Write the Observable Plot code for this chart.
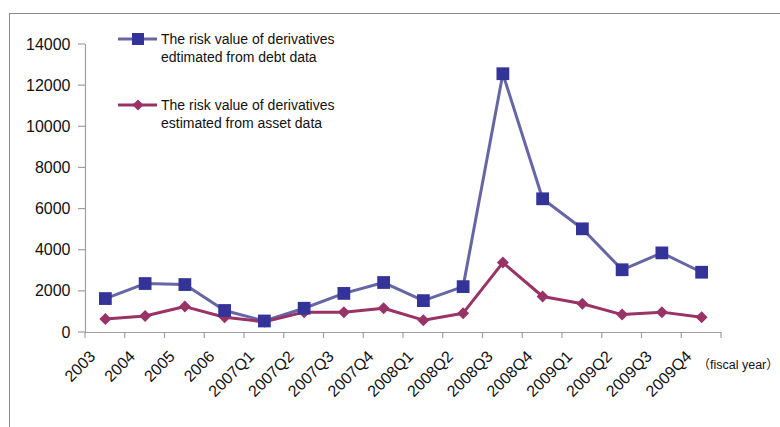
<!DOCTYPE html>
<html>
<head>
<meta charset="utf-8">
<script src="https://cdn.jsdelivr.net/npm/d3@7"></script>
<script src="https://cdn.jsdelivr.net/npm/@observablehq/plot@0.6"></script>
<style>
  html, body { margin: 0; padding: 0; background: #fff; overflow: hidden; }
  #wrap { position: relative; width: 780px; height: 427px; overflow: hidden;
    font-family: "Liberation Sans", Arial, "Noto Sans CJK JP", sans-serif; }
  #frame { position: absolute; left: 9px; top: 13px; width: 900px; height: 600px;
    border: 1px solid #8a8a8a; box-sizing: border-box; }
  #chart { position: absolute; left: 0; top: 0; }
  .leg { position: absolute; font-size: 14px; line-height: 18px; color: #111; }
  .leg svg { position: absolute; left: 0; top: 0; }
  .leg .t { position: absolute; left: 43px; top: 0; white-space: nowrap; }
</style>
</head>
<body>
<div id="wrap">
  <div id="frame"></div>
  <div id="chart"></div>
  <div class="leg" id="leg1" style="left:118px; top:30px;"></div>
  <div class="leg" id="leg2" style="left:118px; top:96px;"></div>
</div>
<script>
const categories = ["2003","2004","2005","2006","2007Q1","2007Q2","2007Q3","2007Q4",
  "2008Q1","2008Q2","2008Q3","2008Q4","2009Q1","2009Q2","2009Q3","2009Q4"];
const debtValues = [1650, 2380, 2330, 1070, 560, 1180, 1900, 2430,
  1550, 2230, 12580, 6500, 5040, 3050, 3870, 2930];
const assetValues = [660, 800, 1260, 740, 520, 990, 990, 1180,
  600, 940, 3400, 1750, 1400, 870, 990, 740];
const yTicks = [0, 2000, 4000, 6000, 8000, 10000, 12000, 14000];
const seriesNames = ["The risk value of derivatives\nedtimated from debt data",
  "The risk value of derivatives\nestimated from asset data"];
const xUnitLabel = "（fiscal year）";

const debtLine = "#6666a6", debtMark = "#333399", assetColor = "#993366";

const debt = categories.map((c, i) => ({i: i + 0.5, c, v: debtValues[i]}));
const asset = categories.map((c, i) => ({i: i + 0.5, c, v: assetValues[i]}));
const boundaries = d3.range(categories.length + 1);
const axisColor = "#a0a0a0";

const chart = Plot.plot({
  width: 780,
  height: 427,
  marginLeft: 85,
  marginRight: 59,
  marginTop: 44,
  marginBottom: 95,
  style: {fontFamily: "'Liberation Sans', Arial, 'Noto Sans CJK JP', sans-serif", background: "transparent", color: "#111"},
  x: {type: "linear", domain: [0, categories.length], axis: null},
  y: {domain: [0, 14000], axis: null},
  marks: [
    Plot.ruleX([0], {y1: 0, y2: 14000, stroke: axisColor, strokeWidth: 1.2}),
    Plot.ruleY([0], {x1: 0, x2: categories.length, stroke: axisColor, strokeWidth: 1.2}),
    Plot.text(yTicks, {y: d => d, frameAnchor: "left", text: d => String(d), textAnchor: "end",
      dx: -15, fontSize: 16, fill: "#111"}),
    Plot.text(categories, {x: (d, i) => i + 0.5, frameAnchor: "bottom", text: d => d,
      rotate: -45, textAnchor: "end", dx: -9, dy: 25, fontSize: 16, fill: "#111"}),
    Plot.text([xUnitLabel], {frameAnchor: "bottom-right", text: d => d, textAnchor: "start",
      dx: -24, dy: 36, fontSize: 12.5, fill: "#111"}),
    Plot.line(debt, {x: "i", y: "v", stroke: debtLine, strokeWidth: 3}),
    Plot.line(asset, {x: "i", y: "v", stroke: assetColor, strokeWidth: 3}),
    Plot.dot(asset, {x: "i", y: "v", symbol: "diamond2", r: 5.4, fill: assetColor, stroke: "none"}),
    Plot.dot(debt, {x: "i", y: "v", symbol: "square", r: 7.2, fill: debtMark, stroke: "none"})
  ]
});
document.getElementById("chart").appendChild(chart);

// tick marks (y ticks left of axis, x ticks at category boundaries below axis), placed via the scales
const svg = d3.select(chart);
const xs = chart.scale("x"), ys = chart.scale("y");
const g = svg.insert("g", ":first-child").attr("stroke", axisColor).attr("stroke-width", 1.2);
g.selectAll(".yt").data(yTicks).join("line")
  .attr("x1", xs.apply(0) - 7).attr("x2", xs.apply(0))
  .attr("y1", d => ys.apply(d)).attr("y2", d => ys.apply(d));
g.selectAll(".xt").data(boundaries).join("line")
  .attr("x1", d => xs.apply(d)).attr("x2", d => xs.apply(d))
  .attr("y1", ys.apply(0)).attr("y2", ys.apply(0) + 6);

// legend
function legend(id, name, color, lineColor, square) {
  const el = document.getElementById(id);
  const marker = square
    ? `<rect x="14" y="3" width="12" height="12" fill="${color}"/>`
    : `<path d="M20 3.5 L25.5 9 L20 14.5 L14.5 9 Z" fill="${color}"/>`;
  el.innerHTML = `<svg width="40" height="18"><line x1="0" x2="39" y1="9" y2="9" stroke="${lineColor}" stroke-width="3"/>${marker}</svg>` +
    `<div class="t">${name.split("\n").join("<br>")}</div>`;
}
legend("leg1", seriesNames[0], debtMark, debtLine, true);
legend("leg2", seriesNames[1], assetColor, assetColor, false);
</script>
</body>
</html>
